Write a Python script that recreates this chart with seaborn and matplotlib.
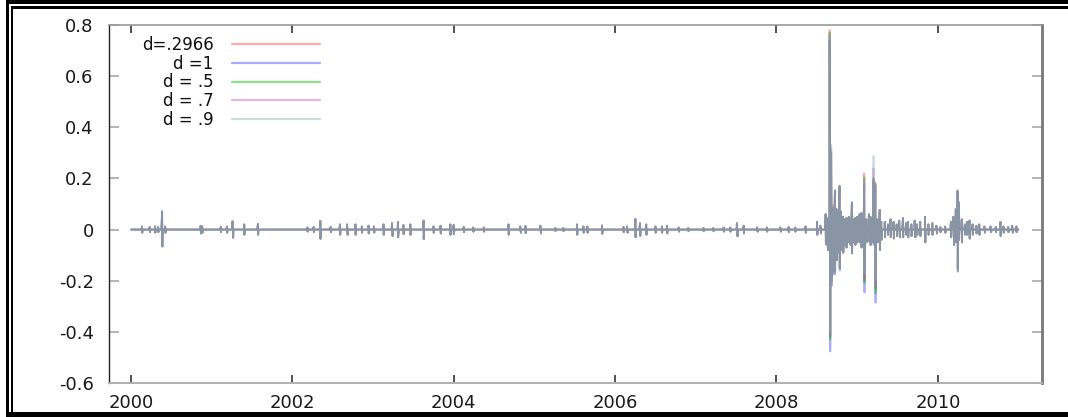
import numpy as np
import pandas as pd
import matplotlib
matplotlib.use("Agg")
import matplotlib.pyplot as plt
from matplotlib.patches import Rectangle
import seaborn as sns

# ---------------------------------------------------------------------------
# Data: daily fractionally differenced returns, 2000-2010.
# Quiet days sit at zero; the listed events give the day's swing (high, low).
# ---------------------------------------------------------------------------
series_labels = ["d=.2966", "d =1", "d = .5", "d = .7", "d = .9"]
series_colors = ["#ff4040", "#4040ff", "#00c000", "#c060c0", "#8ab2b8"]

# Shared small moves (identical across the five d values at this scale)
event_years = [
    2000.136, 2000.227, 2000.300, 2000.338, 2000.384, 2000.425, 2000.859, 2000.884,
    2001.115, 2001.190, 2001.259, 2001.404, 2001.569, 2002.181, 2002.263, 2002.346,
    2002.470, 2002.585, 2002.677, 2002.779, 2002.862, 2002.944, 2003.006, 2003.130,
    2003.234, 2003.308, 2003.378, 2003.461, 2003.626, 2003.750, 2003.833, 2003.957,
    2003.998, 2004.118, 2004.242, 2004.369, 2004.679, 2004.824, 2004.886, 2005.072,
    2005.258, 2005.357, 2005.527, 2005.608, 2005.650, 2005.836, 2006.104, 2006.146,
    2006.249, 2006.302, 2006.382, 2006.497, 2006.580, 2006.642, 2006.786, 2006.906,
    2007.092, 2007.216, 2007.340, 2007.426, 2007.509, 2007.591, 2007.757, 2007.881,
    2008.046, 2008.145, 2008.230, 2008.356, 2008.501, 2008.541, 2008.603, 2008.615,
    2008.634, 2008.740, 2008.760, 2008.800, 2008.823, 2008.845, 2008.864, 2008.889,
    2008.910, 2008.934, 2008.956, 2008.975, 2009.000, 2009.025, 2009.050, 2009.068,
    2009.110, 2009.137, 2009.162, 2009.180, 2009.248, 2009.272, 2009.297, 2009.340,
    2009.380, 2009.410, 2009.450, 2009.490, 2009.520, 2009.560, 2009.600, 2009.630,
    2009.670, 2009.710, 2009.740, 2009.780, 2009.840, 2009.880, 2009.930, 2009.980,
    2010.030, 2010.090, 2010.155, 2010.190, 2010.220, 2010.260, 2010.290, 2010.330,
    2010.360, 2010.390, 2010.425, 2010.475, 2010.510, 2010.575, 2010.650, 2010.710,
    2010.770, 2010.810, 2010.870, 2010.920, 2010.970,
]
event_high = [
    0.012, 0.010, 0.012, 0.010, 0.071, 0.012, 0.015, 0.012,
    0.010, 0.012, 0.032, 0.020, 0.022, 0.008, 0.010, 0.034,
    0.010, 0.020, 0.020, 0.020, 0.012, 0.015, 0.012, 0.020,
    0.025, 0.030, 0.018, 0.020, 0.035, 0.012, 0.015, 0.020,
    0.018, 0.010, 0.008, 0.008, 0.020, 0.012, 0.014, 0.015,
    0.006, 0.006, 0.020, 0.012, 0.012, 0.016, 0.010, 0.012,
    0.041, 0.025, 0.020, 0.012, 0.012, 0.015, 0.008, 0.006,
    0.006, 0.006, 0.008, 0.008, 0.025, 0.015, 0.008, 0.008,
    0.008, 0.010, 0.008, 0.012, 0.030, 0.015, 0.060, 0.050,
    0.040, 0.080, 0.060, 0.070, 0.050, 0.040, 0.045, 0.050,
    0.040, 0.106, 0.040, 0.045, 0.050, 0.060, 0.065, 0.040,
    0.040, 0.060, 0.050, 0.040, 0.040, 0.077, 0.030, 0.030,
    0.020, 0.040, 0.030, 0.020, 0.035, 0.045, 0.025, 0.030,
    0.020, 0.035, 0.020, 0.030, 0.050, 0.020, 0.025, 0.015,
    0.010, 0.012, 0.030, 0.050, 0.080, 0.106, 0.040, 0.020,
    0.030, 0.035, 0.020, 0.015, 0.020, 0.012, 0.012, 0.010,
    0.030, 0.012, 0.010, 0.015, 0.012,
]
event_low = [
    -0.012, -0.010, -0.012, -0.010, -0.066, -0.012, -0.015, -0.012,
    -0.010, -0.012, -0.032, -0.020, -0.020, -0.008, -0.010, -0.036,
    -0.010, -0.020, -0.020, -0.020, -0.012, -0.015, -0.012, -0.020,
    -0.025, -0.030, -0.018, -0.020, -0.037, -0.012, -0.015, -0.020,
    -0.018, -0.010, -0.008, -0.008, -0.020, -0.012, -0.014, -0.015,
    -0.006, -0.006, -0.020, -0.012, -0.012, -0.016, -0.010, -0.012,
    -0.030, -0.025, -0.020, -0.012, -0.012, -0.015, -0.008, -0.006,
    -0.006, -0.006, -0.008, -0.008, -0.026, -0.015, -0.008, -0.008,
    -0.008, -0.010, -0.008, -0.012, -0.020, -0.015, -0.050, -0.060,
    -0.080, -0.120, -0.090, -0.080, -0.090, -0.060, -0.070, -0.050,
    -0.060, -0.093, -0.050, -0.060, -0.050, -0.050, -0.070, -0.050,
    -0.050, -0.045, -0.060, -0.050, -0.050, -0.080, -0.040, -0.030,
    -0.020, -0.030, -0.035, -0.025, -0.030, -0.030, -0.020, -0.030,
    -0.025, -0.030, -0.020, -0.025, -0.050, -0.020, -0.020, -0.015,
    -0.010, -0.012, -0.030, -0.060, -0.050, -0.040, -0.050, -0.020,
    -0.020, -0.035, -0.020, -0.015, -0.020, -0.012, -0.010, -0.010,
    -0.025, -0.012, -0.010, -0.012, -0.010,
]

# Crisis-period swings, where the five d values part company
peak_years = [2008.657, 2008.675, 2008.694, 2008.719, 2008.780,
              2009.087, 2009.202, 2009.223, 2010.243]
peak_high = {
    "d=.2966": [0.780, 0.300, 0.097, 0.150, 0.170, 0.220, 0.200, 0.185, 0.150],
    "d =1":    [0.740, 0.300, 0.080, 0.150, 0.165, 0.180, 0.190, 0.170, 0.150],
    "d = .5":  [0.770, 0.310, 0.085, 0.152, 0.170, 0.205, 0.200, 0.180, 0.152],
    "d = .7":  [0.760, 0.320, 0.082, 0.154, 0.172, 0.195, 0.240, 0.178, 0.153],
    "d = .9":  [0.756, 0.332, 0.080, 0.156, 0.173, 0.184, 0.288, 0.176, 0.154],
}
peak_low = {
    "d=.2966": [-0.420, -0.190, -0.160, -0.160, -0.150, -0.200, -0.050, -0.230, -0.150],
    "d =1":    [-0.477, -0.220, -0.175, -0.175, -0.160, -0.246, -0.060, -0.286, -0.165],
    "d = .5":  [-0.430, -0.200, -0.165, -0.165, -0.152, -0.210, -0.052, -0.250, -0.158],
    "d = .7":  [-0.415, -0.200, -0.168, -0.168, -0.150, -0.190, -0.050, -0.220, -0.160],
    "d = .9":  [-0.404, -0.200, -0.170, -0.170, -0.150, -0.170, -0.050, -0.200, -0.163],
}

x_ticks = [2000, 2002, 2004, 2006, 2008, 2010]
y_ticks = [-0.6, -0.4, -0.2, 0.0, 0.2, 0.4, 0.6, 0.8]
y_tick_labels = ["-0.6", "-0.4", "-0.2", "0", "0.2", "0.4", "0.6", "0.8"]

# ---------------------------------------------------------------------------
# Build the daily series on a business-day calendar
# ---------------------------------------------------------------------------
days = pd.bdate_range("2000-01-03", "2010-12-31")
day_years = (days.year + (days.dayofyear - 1) / np.where(days.is_leap_year, 366, 365)).to_numpy()


def daily_series(years, highs, lows):
    values = np.zeros(len(day_years))
    for yr, hi, lo in zip(years, highs, lows):
        i = int(np.searchsorted(day_years, yr))
        values[i] = hi
        values[i + 1] = lo
    return values


frames = []
for label in series_labels:
    vals = daily_series(event_years + peak_years,
                        event_high + peak_high[label],
                        event_low + peak_low[label])
    frames.append(pd.DataFrame({"year": day_years, "value": vals, "series": label}))
data = pd.concat(frames, ignore_index=True)

# ---------------------------------------------------------------------------
# Figure
# ---------------------------------------------------------------------------
sns.set_theme(style="white")
plt.rcParams["font.family"] = ["DejaVu Sans"]
plt.rcParams["axes.unicode_minus"] = False

W, H = 1068, 417
fig = plt.figure(figsize=(W / 100, H / 100), dpi=100)
ax = fig.add_axes([109 / W, 1 - 383 / H, 933 / W, 358 / H])

sns.lineplot(data=data, x="year", y="value", hue="series",
             hue_order=series_labels, palette=dict(zip(series_labels, series_colors)),
             estimator=None, sort=False, linewidth=1.3, alpha=0.45, legend=False, ax=ax)

ax.set_xlim(1999.73, 2011.29)
ax.set_ylim(-0.6, 0.8)
ax.set_xticks(x_ticks, [str(t) for t in x_ticks])
ax.set_yticks(y_ticks, y_tick_labels)
ax.set_xlabel("")
ax.set_ylabel("")

ax.tick_params(axis="x", which="major", direction="in", length=6, width=1.2,
               color="#333333", top=True, bottom=True, labelsize=13,
               labelcolor="#1a1a1a", pad=8)
ax.tick_params(axis="y", which="major", direction="in", length=7, width=1.2,
               color="#a8a8a8", left=True, right=True, labelsize=13,
               labelcolor="#1a1a1a", pad=11)

ax.spines["left"].set_color("#222222")
ax.spines["left"].set_linewidth(1.0)
ax.spines["bottom"].set_color("#b0b0b0")
ax.spines["bottom"].set_linewidth(1.4)
ax.spines["top"].set_color("#999999")
ax.spines["top"].set_linewidth(1.2)
ax.spines["right"].set_color("#777777")
ax.spines["right"].set_linewidth(2.0)

leg = ax.legend(ax.lines[:len(series_labels)], series_labels,
                loc="upper right", bbox_to_anchor=(0.2262, 0.970),
                markerfirst=False, frameon=False, fontsize=12,
                handlelength=5.3, handletextpad=1.1, labelspacing=0.05,
                borderpad=0, borderaxespad=0)
for t in leg.get_texts():
    t.set_color("#111111")
for h in leg.get_lines():
    h.set_linewidth(1.6)


def frame_bar(x0, y0, x1, y1):
    """Solid black bar given in pixel coordinates measured from the top-left."""
    fig.patches.append(Rectangle((x0 / W, 1 - y1 / H), (x1 - x0) / W, (y1 - y0) / H,
                                 transform=fig.transFigure, facecolor="black",
                                 edgecolor="none", zorder=10))


# Double black frame on the top, left and bottom edges
frame_bar(6, 0, W, 4)       # outer top
frame_bar(6, 0, 9, H)       # outer left
frame_bar(6, 412, W, H)     # bottom
frame_bar(11, 6, W, 8.5)    # inner top
frame_bar(11, 6, 13.5, H)   # inner left

fig.savefig("out.png", dpi=100)
